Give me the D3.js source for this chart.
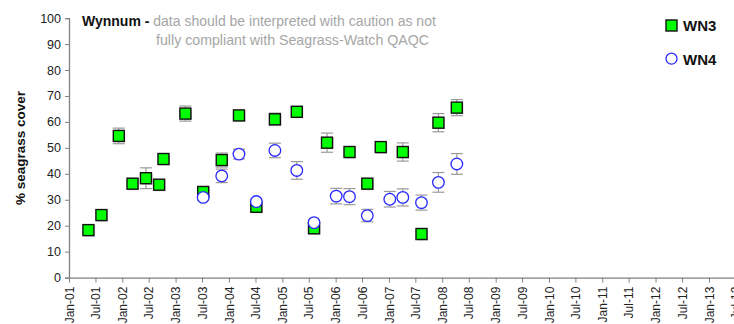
<!DOCTYPE html>
<html><head><meta charset="utf-8">
<script src="https://cdn.jsdelivr.net/npm/d3@7"></script>
<style>
html,body{margin:0;padding:0;background:#fff;}
svg{display:block;font-family:"Liberation Sans",Arial,sans-serif;}
</style></head>
<body><svg id="c" width="734" height="324"></svg>
<script>
// Survey dates
const dates = ["2001-05-14","2001-08-11","2001-12-08","2002-03-12","2002-06-12","2002-09-10","2002-10-10",
  "2003-03-09","2003-07-09","2003-11-13","2004-03-10","2004-07-07","2004-11-11","2005-04-10","2005-08-06",
  "2005-11-03","2006-01-05","2006-04-06","2006-08-06","2006-11-06","2007-01-07","2007-04-06","2007-08-12",
  "2007-12-06","2008-04-10"];
const wn3    = [18.3,24.1,54.6,36.2,38.3,35.8,45.7,63.2,33.0,45.3,62.5,27.3,61.0,63.9,19.0,52.0,null,48.4,36.2,50.3,null,48.4,16.8,59.7,65.5];
const wn3Err = [1.0,1.0,3.0,1.0,4.0,1.0,1.0,2.9,1.5,2.7,1.0,1.0,2.4,1.5,1.0,3.7,null,1.0,1.0,1.0,null,3.5,1.0,3.5,3.1];
const wn4    = [null,null,null,null,null,null,null,null,30.9,39.2,47.6,29.3,49.0,41.3,21.2,null,31.4,31.2,23.9,null,30.2,30.9,28.9,36.7,43.8];
const wn4Err = [null,null,null,null,null,null,null,null,1.0,2.6,1.9,1.0,2.8,3.4,1.0,null,3.0,3.1,2.4,null,3.0,3.3,2.9,3.8,4.0];
const yTicks = [0,10,20,30,40,50,60,70,80,90,100];
const seriesNames = ["WN3","WN4"];
const titleBold = "Wynnum -";
const titleLines = ["data should be interpreted with caution as not","fully compliant with Seagrass-Watch QAQC"];
const yLabel = "% seagrass cover";

const svg = d3.select("#c");
const parse = d3.timeParse("%Y-%m-%d");
const x0 = 69, yBottom = 277.6, yTop = 18.1, perYear = 53.33;
const x = d3.scaleTime().domain([new Date(2001,0,1), new Date(2014,0,1)]).range([x0, x0 + 13*perYear]);
const y = d3.scaleLinear().domain([0,100]).range([yBottom, yTop]);

const axisCol = "#808080";
// Y axis
const yAxis = svg.append("g").attr("transform",`translate(${x0},0)`)
  .call(d3.axisLeft(y).tickValues(yTicks).tickSize(4).tickPadding(4));
yAxis.select(".domain").attr("stroke",axisCol).attr("stroke-width",1.3);
yAxis.selectAll(".tick line").attr("stroke",axisCol);
yAxis.selectAll(".tick text").attr("fill","#222").style("font-size","12.5px").style("font-family","'Liberation Sans',Arial,sans-serif");

// X axis
const xAxis = svg.append("g").attr("transform",`translate(0,${yBottom})`)
  .call(d3.axisBottom(x).ticks(d3.timeMonth.every(6)).tickFormat(d3.timeFormat("%b-%y")).tickSize(5).tickSizeOuter(0));
xAxis.select(".domain").attr("stroke",axisCol).attr("stroke-width",1.3);
xAxis.selectAll(".tick line").attr("stroke",axisCol);
xAxis.selectAll(".tick text").attr("fill","#222").style("font-size","12px").style("font-family","'Liberation Sans',Arial,sans-serif")
  .attr("text-anchor","end").attr("transform","rotate(-90)").attr("x",-9).attr("y",0).attr("dy","0.35em");

// Y label
svg.append("text").attr("transform","translate(25,148) rotate(-90)").attr("text-anchor","middle")
  .style("font-size","13.5px").style("font-weight","bold").attr("fill","#111").text(yLabel);

// Title
const t = svg.append("text").attr("x",82).attr("y",26).style("font-size","14px");
t.append("tspan").style("font-weight","bold").attr("fill","#111").text(titleBold + " ");
t.append("tspan").attr("fill","#a6a6a6").text(titleLines[0]);
svg.append("text").attr("x",156).attr("y",45).style("font-size","14.2px").attr("fill","#a6a6a6").text(titleLines[1]);

// data rows
const rows = dates.map((d,i)=>({date:parse(d), a:wn3[i], ae:wn3Err[i], b:wn4[i], be:wn4Err[i]}));
const errCol = "#9a9a9a", cap = 6;
function errBars(data, vKey, eKey){
  const g = svg.append("g").attr("stroke",errCol).attr("stroke-width",1.2);
  data.filter(r=>r[vKey]!=null).forEach(r=>{
    const cx = x(r.date), t1 = y(r[vKey]+r[eKey]), b1 = y(r[vKey]-r[eKey]);
    g.append("line").attr("x1",cx).attr("x2",cx).attr("y1",t1).attr("y2",b1);
    g.append("line").attr("x1",cx-cap).attr("x2",cx+cap).attr("y1",t1).attr("y2",t1);
    g.append("line").attr("x1",cx-cap).attr("x2",cx+cap).attr("y1",b1).attr("y2",b1);
  });
}
errBars(rows,"a","ae");
errBars(rows,"b","be");

const sq = 11;
const gA = svg.append("g");
rows.filter(r=>r.a!=null).forEach(r=>{
  gA.append("rect").attr("x",x(r.date)-sq/2+1).attr("y",y(r.a)-sq/2+1).attr("width",sq).attr("height",sq).attr("fill","#c8c8c8");
  gA.append("rect").attr("x",x(r.date)-sq/2).attr("y",y(r.a)-sq/2).attr("width",sq).attr("height",sq)
    .attr("fill","#00ff00").attr("stroke","#111").attr("stroke-width",1.4);
});
const gB = svg.append("g");
rows.filter(r=>r.b!=null).forEach(r=>{
  gB.append("circle").attr("cx",x(r.date)).attr("cy",y(r.b)).attr("r",5.8)
    .attr("fill","#fff").attr("stroke","#2a2aff").attr("stroke-width",1.3);
});

// Legend
const lg = svg.append("g");
lg.append("rect").attr("x",666).attr("y",20).attr("width",11).attr("height",11).attr("fill","#00ff00").attr("stroke","#111").attr("stroke-width",1.4);
lg.append("text").attr("x",683).attr("y",31).style("font-size","15px").style("font-weight","bold").attr("fill","#111").text(seriesNames[0]);
lg.append("circle").attr("cx",671.5).attr("cy",58.7).attr("r",5.5).attr("fill","#fff").attr("stroke","#2a2aff").attr("stroke-width",1.3);
lg.append("text").attr("x",683).attr("y",64.5).style("font-size","15px").style("font-weight","bold").attr("fill","#111").text(seriesNames[1]);
</script></body></html>
